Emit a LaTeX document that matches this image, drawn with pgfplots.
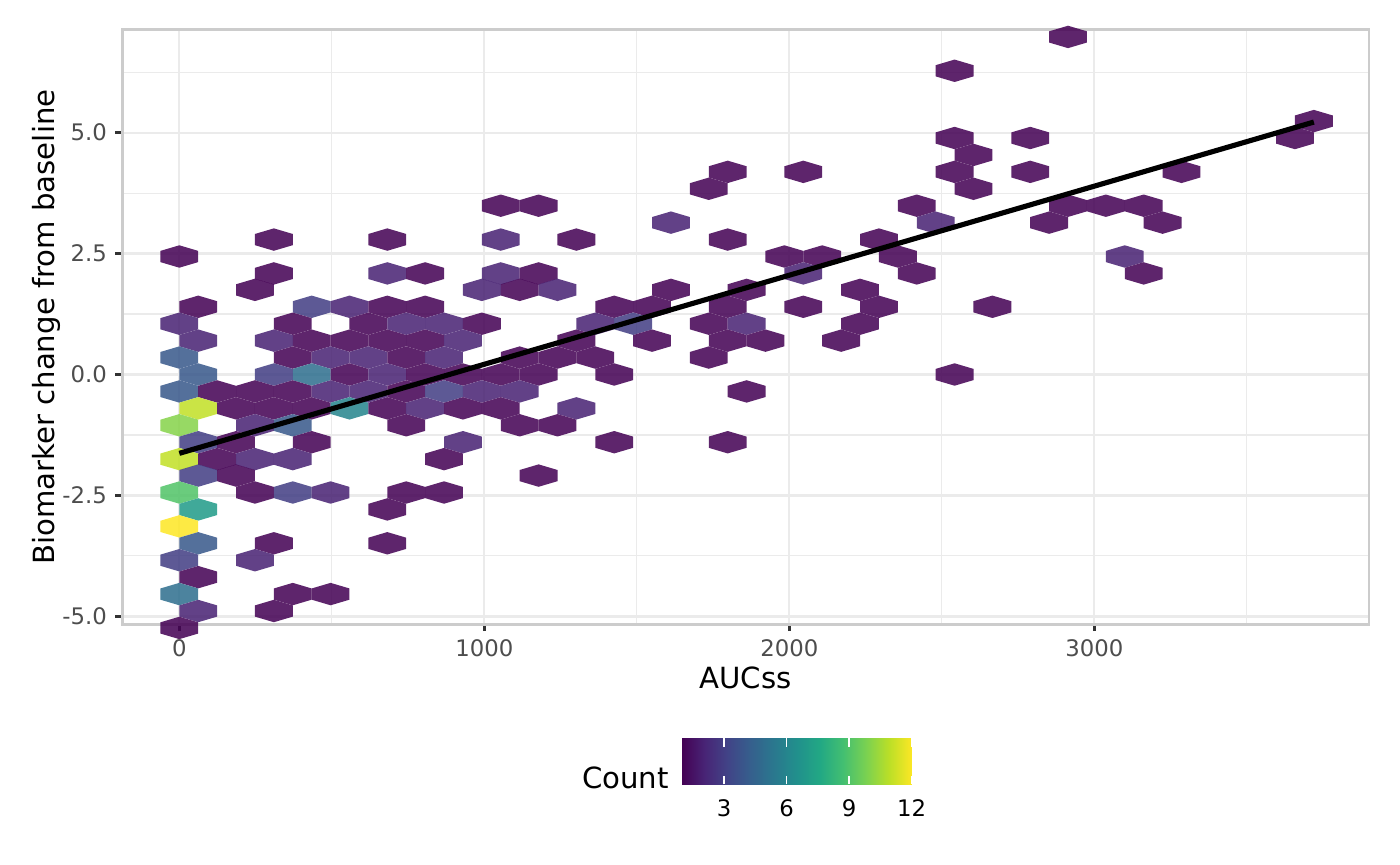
\documentclass[border=0pt]{standalone}
\usepackage{fontspec}
\setmainfont{DejaVu Sans}
\usepackage{pgfplots}
\pgfplotsset{compat=1.18}
\definecolor{gridc}{HTML}{EBEBEB}
\definecolor{borderc}{HTML}{CCCCCC}
\definecolor{tickc}{HTML}{333333}
\definecolor{tlabc}{HTML}{4D4D4D}
\pgfplotsset{colormap={vir}{rgb255=(68,1,84) rgb255=(72,37,118) rgb255=(65,68,135) rgb255=(53,96,141) rgb255=(42,120,142) rgb255=(33,144,140) rgb255=(34,168,132) rgb255=(67,191,113) rgb255=(122,209,81) rgb255=(187,223,39) rgb255=(253,231,37)}}
\pgfdeclareplotmark{hexa}{%
  \pgfpathmoveto{\pgfqpoint{0bp}{4.036bp}}%
  \pgfpathlineto{\pgfqpoint{6.81bp}{2.018bp}}%
  \pgfpathlineto{\pgfqpoint{6.81bp}{-2.018bp}}%
  \pgfpathlineto{\pgfqpoint{0bp}{-4.036bp}}%
  \pgfpathlineto{\pgfqpoint{-6.81bp}{-2.018bp}}%
  \pgfpathlineto{\pgfqpoint{-6.81bp}{2.018bp}}%
  \pgfpathclose
  \pgfusepathqfill}
\newcommand\ticfont{\fontsize{8.2bp}{9.5bp}\selectfont}
\newcommand\titfont{\fontsize{10.5bp}{12bp}\selectfont}
\begin{document}
\begin{tikzpicture}
\path[use as bounding box] (0bp,0bp) rectangle (504bp,311.4bp);
\begin{axis}[
  at={(44.03bp,86.65bp)}, anchor=south west,
  scale only axis, width=448.8bp, height=214.0bp,
  xmin=-186.9, xmax=3900.7, ymin=-5.165, ymax=7.126,
  clip=false, clip marker paths=true,
  colormap name=vir, point meta min=1, point meta max=12,
  xtick={0,1000,2000,3000}, xticklabels={0,1000,2000,3000},
  ytick={-5,-2.5,0,2.5,5}, yticklabels={-5.0,-2.5,0.0,2.5,5.0},
  minor xtick={500,1500,2500,3500},
  minor ytick={-3.75,-1.25,1.25,3.75,6.25},
  xmajorgrids, ymajorgrids, xminorgrids, yminorgrids,
  major grid style={gridc, line width=0.85bp},
  minor grid style={gridc, line width=0.43bp},
  minor tick length=0pt,
  tick align=outside, tick pos=left,
  major tick length=2.5bp,
  major tick style={tickc, line width=0.9bp},
  axis line style={borderc, line width=1bp},
  xticklabel style={font=\ticfont, text=tlabc, inner sep=0pt, anchor=north, yshift=-2.8bp},
  yticklabel style={font=\ticfont, text=tlabc, inner sep=0pt, anchor=east, xshift=-2.9bp},
  xlabel={AUCss}, ylabel={Biomarker change from baseline},
  xlabel style={font=\titfont, inner sep=0pt, at={(axis description cs:0.5,-0.1077)}, anchor=base},
  ylabel style={font=\titfont, inner sep=0pt, at={(axis description cs:-0.0541,0.5)}, anchor=base},
]
\addplot[scatter, only marks, mark=hexa, point meta=explicit,
  fill opacity=0.86,
  scatter/use mapped color={draw=none, fill=mapped color, fill opacity=0.86}]
  table[meta=c] {
x y c
2914 6.98 1
2542 6.28 1
3720 5.24 1
2542 4.89 1
2790 4.89 1
3658 4.89 1
2604 4.54 1
1798 4.19 1
2046 4.19 1
2542 4.19 1
2790 4.19 1
3286 4.19 1
1736 3.84 1
2604 3.84 1
1054 3.49 1
1178 3.49 1
2418 3.49 1
2914 3.49 1
3038 3.49 1
3162 3.49 1
1612 3.14 2
2480 3.14 2
2852 3.14 1
3224 3.14 1
310 2.79 1
682 2.79 1
1054 2.79 2
1302 2.79 1
1798 2.79 1
2294 2.79 1
0 2.44 1
1984 2.44 1
2108 2.44 1
2356 2.44 1
3100 2.44 2
310 2.09 1
682 2.09 2
806 2.09 1
1054 2.09 2
1178 2.09 1
2046 2.09 2
2418 2.09 1
3162 2.09 1
248 1.75 1
992 1.75 2
1116 1.75 1
1240 1.75 2
1612 1.75 1
1860 1.75 1
2232 1.75 1
62 1.40 1
434 1.40 3
558 1.40 2
682 1.40 1
806 1.40 1
1426 1.40 1
1550 1.40 1
1798 1.40 1
2046 1.40 1
2294 1.40 1
2666 1.40 1
0 1.05 2
372 1.05 1
620 1.05 1
744 1.05 2
868 1.05 2
992 1.05 1
1364 1.05 2
1488 1.05 3
1736 1.05 1
1860 1.05 2
2232 1.05 1
62 0.70 2
310 0.70 2
434 0.70 1
558 0.70 1
682 0.70 1
806 0.70 1
930 0.70 2
1302 0.70 1
1550 0.70 1
1798 0.70 1
1922 0.70 1
2170 0.70 1
0 0.35 4
372 0.35 1
496 0.35 2
620 0.35 2
744 0.35 1
868 0.35 2
1116 0.35 1
1240 0.35 1
1364 0.35 1
1736 0.35 1
62 0.00 4
310 0.00 3
434 0.00 5
558 0.00 1
682 0.00 2
806 0.00 1
930 0.00 1
1054 0.00 1
1178 0.00 1
1426 0.00 1
2542 0.00 1
0 -0.35 4
124 -0.35 1
248 -0.35 1
372 -0.35 1
496 -0.35 2
620 -0.35 2
744 -0.35 1
868 -0.35 3
992 -0.35 2
1116 -0.35 2
1860 -0.35 1
62 -0.70 11
186 -0.70 1
310 -0.70 1
434 -0.70 1
558 -0.70 6
682 -0.70 1
806 -0.70 2
930 -0.70 1
1054 -0.70 1
1302 -0.70 2
0 -1.05 10
248 -1.05 2
372 -1.05 4
744 -1.05 1
1116 -1.05 1
1240 -1.05 1
62 -1.40 3
186 -1.40 1
434 -1.40 1
930 -1.40 2
1426 -1.40 1
1798 -1.40 1
0 -1.75 11
124 -1.75 1
248 -1.75 2
372 -1.75 2
868 -1.75 1
62 -2.09 3
186 -2.09 1
1178 -2.09 1
0 -2.44 9
248 -2.44 1
372 -2.44 3
496 -2.44 2
744 -2.44 1
868 -2.44 1
62 -2.79 7
682 -2.79 1
0 -3.14 12
62 -3.49 4
310 -3.49 1
682 -3.49 1
0 -3.84 3
248 -3.84 2
62 -4.19 1
0 -4.54 5
372 -4.54 1
496 -4.54 1
62 -4.89 2
310 -4.89 1
0 -5.24 1
};
\addplot[black, line width=1.85bp] coordinates {(0,-1.63) (3720,5.22)};
\end{axis}
\begin{axis}[
  at={(245.63bp,29.05bp)}, anchor=south west,
  scale only axis, width=82.58bp, height=16.56bp,
  xmin=1, xmax=12, ymin=0, ymax=1,
  colormap name=vir, point meta min=1, point meta max=12,
  axis line style={draw=none},
  ytick=\empty, xtick={3,6,9,12}, xticklabels={3,6,9,12},
  tick align=inside, xtick pos=both, xticklabel pos=left,
  major tick length=3bp,
  major tick style={white, line width=0.6bp},
  axis on top,
  xticklabel style={font=\ticfont, text=black, inner sep=0pt, anchor=north, yshift=-5.3bp},
]
\addplot[surf, shader=interp, point meta=x] coordinates {
(1,0) (12,0)

(1,1) (12,1)
};
\end{axis}
\node[anchor=base west, inner sep=0pt, font=\titfont] at (209.41bp,27.36bp) {Count};
\end{tikzpicture}
\end{document}
